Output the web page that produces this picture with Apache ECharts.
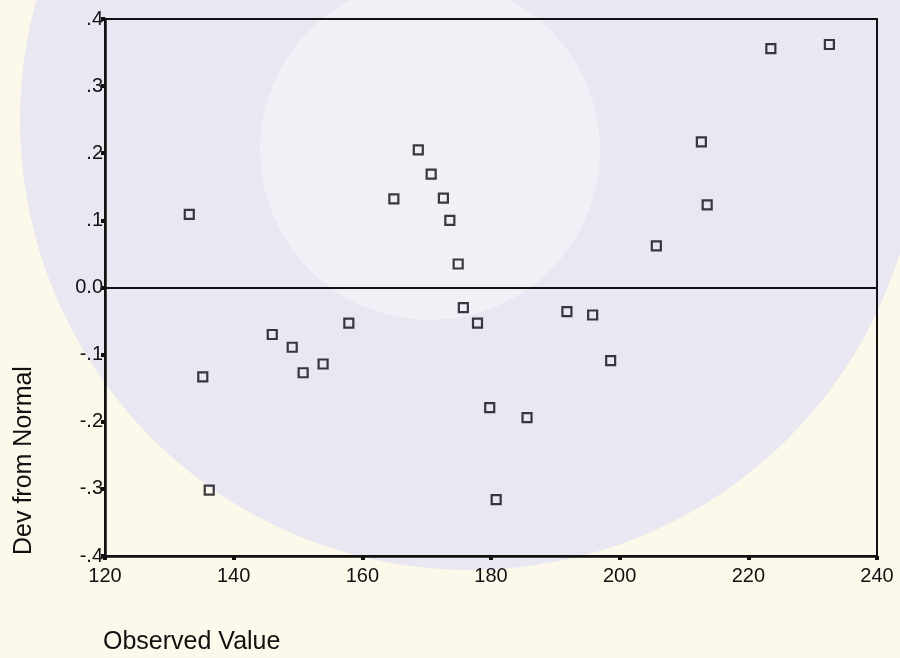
<!DOCTYPE html>
<html>
<head>
<meta charset="utf-8">
<script src="https://cdn.jsdelivr.net/npm/echarts@6/dist/echarts.min.js"></script>
<style>html,body{margin:0;padding:0;background:#fcf8ea;}#c{width:900px;height:658px;}</style>
</head>
<body>
<div id="c"></div>
<script>
// Observed values (x) and deviation from normal (y)
const observed = [133.1, 135.2, 136.2, 146.0, 149.1, 150.8, 153.9, 157.9, 164.9, 168.7, 170.7, 172.6, 173.6, 174.9, 175.7, 177.9, 179.8, 180.8, 185.6, 191.8, 195.8, 198.6, 205.7, 212.7, 213.6, 223.5, 232.6];
const deviation = [0.109, -0.133, -0.302, -0.070, -0.089, -0.127, -0.114, -0.053, 0.132, 0.205, 0.169, 0.133, 0.100, 0.035, -0.030, -0.053, -0.179, -0.316, -0.194, -0.036, -0.041, -0.109, 0.062, 0.217, 0.123, 0.356, 0.362];
const xTicks = [120, 140, 160, 180, 200, 220, 240];
const yTickLabels = {'0.4': '.4', '0.3': '.3', '0.2': '.2', '0.1': '.1', '0': '0.0', '-0.1': '-.1', '-0.2': '-.2', '-0.3': '-.3', '-0.4': '-.4'};
const xName = 'Observed Value';
const yName = 'Dev from Normal';

const points = observed.map((x, i) => [x, deviation[i]]);
const chart = echarts.init(document.getElementById('c'), null, {renderer: 'canvas'});
const font = '"Liberation Sans", Arial, sans-serif';
chart.setOption({
  backgroundColor: '#fcf8ea',
  animation: false,
  graphic: [
    {type: 'circle', z: -10, silent: true, shape: {cx: 470, cy: 120, r: 450},
     style: {fill: 'rgba(214,214,248,0.5)'}},
    {type: 'circle', z: -9, silent: true, shape: {cx: 430, cy: 150, r: 170},
     style: {fill: 'rgba(255,255,255,0.4)'}},
    {type: 'text', left: 103, top: 630, silent: true,
     style: {text: xName, font: '25px ' + font, fill: '#111'}},
    {type: 'text', x: 12, y: 555, rotation: Math.PI / 2, silent: true,
     style: {text: yName, font: '25px ' + font, fill: '#111'}}
  ],
  grid: {left: 105, right: 23, top: 19, bottom: 102, show: true, borderColor: '#111', borderWidth: 2, backgroundColor: 'transparent'},
  xAxis: {
    type: 'value', min: 120, max: 240, interval: 20,
    axisLine: {onZero: false, lineStyle: {color: '#111', width: 2.5}},
    axisTick: {show: true, length: 4, lineStyle: {color: '#111', width: 4}},
    axisLabel: {color: '#111', fontSize: 20, fontFamily: font, margin: 10,
      formatter: v => xTicks.includes(v) ? String(v) : ''},
    splitLine: {show: false}
  },
  yAxis: {
    type: 'value', min: -0.4, max: 0.4, interval: 0.1,
    axisLine: {show: true, onZero: false, lineStyle: {color: '#111', width: 2.5}},
    axisTick: {show: true, length: 4, lineStyle: {color: '#111', width: 4}},
    axisLabel: {color: '#111', fontSize: 20, fontFamily: font, margin: 2,
      formatter: v => { const k = String(Math.round(v * 10) / 10); return yTickLabels[k] !== undefined ? yTickLabels[k] : ''; }},
    splitLine: {show: false}
  },
  series: [{
    type: 'scatter',
    data: points,
    symbol: 'rect',
    symbolSize: 9,
    itemStyle: {color: 'rgba(0,0,0,0)', borderColor: '#0a0a14', borderWidth: 2.2},
    markLine: {
      silent: true, symbol: 'none', label: {show: false},
      lineStyle: {color: '#111', width: 2, type: 'solid'},
      data: [{yAxis: 0}]
    }
  }]
});
</script>
</body>
</html>
